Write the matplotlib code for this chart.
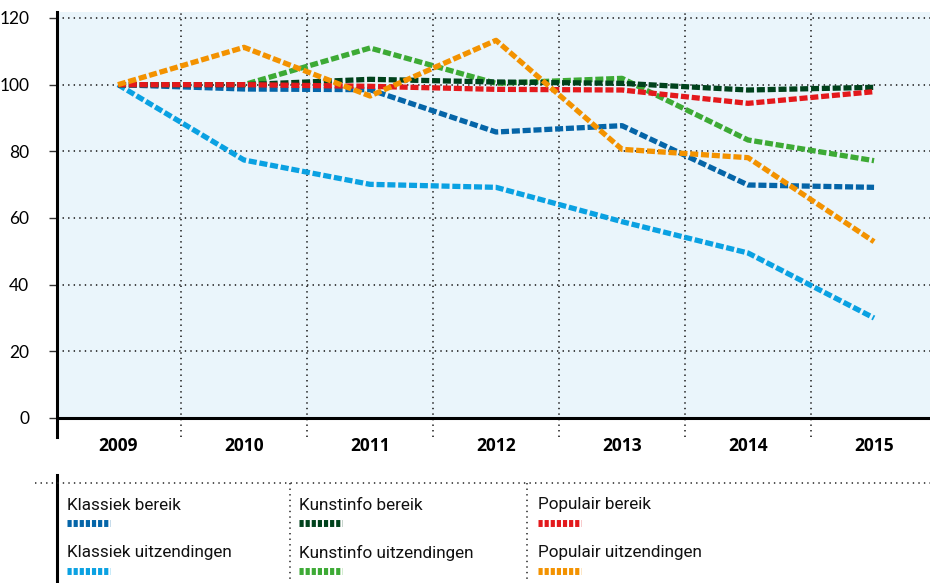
import matplotlib
matplotlib.use("Agg")
import matplotlib.pyplot as plt

plt.rcParams['lines.scale_dashes'] = False

years = ["2009", "2010", "2011", "2012", "2013", "2014", "2015"]
yticks = [0, 20, 40, 60, 80, 100, 120]

klassiek_bereik = [100, 98.7, 98.5, 85.8, 87.7, 69.9, 69.2]
klassiek_uitz = [100, 77.4, 70.1, 69.2, 58.9, 49.5, 30.0]
kunstinfo_bereik = [100, 100, 101.6, 100.8, 100.4, 98.4, 99.2]
kunstinfo_uitz = [100, 100, 111.0, 100.4, 101.9, 83.4, 77.2]
populair_bereik = [100, 100, 99.5, 98.6, 98.4, 94.4, 97.9]
populair_uitz = [100, 111.2, 96.6, 113.3, 80.6, 78.1, 52.9]

colors = {"Klassiek bereik": "#0565A8", "Klassiek uitzendingen": "#0AA1E2",
          "Kunstinfo bereik": "#00421C", "Kunstinfo uitzendingen": "#3DAA35",
          "Populair bereik": "#E3191C", "Populair uitzendingen": "#F39200"}
series = {"Klassiek bereik": klassiek_bereik, "Klassiek uitzendingen": klassiek_uitz,
          "Kunstinfo bereik": kunstinfo_bereik, "Kunstinfo uitzendingen": kunstinfo_uitz,
          "Populair bereik": populair_bereik, "Populair uitzendingen": populair_uitz}
draw_order = ["Klassiek uitzendingen", "Kunstinfo uitzendingen", "Klassiek bereik",
              "Kunstinfo bereik", "Populair bereik", "Populair uitzendingen"]

W, H = 930, 583
fig = plt.figure(figsize=(W / 100, H / 100), dpi=100)
fig.patch.set_facecolor("white")

# main axes
ax_left = 57 / W
ax_bottom = 1 - 437 / H
ax_top = 1 - 12 / H
ax = fig.add_axes([ax_left, ax_bottom, 1 - ax_left, ax_top - ax_bottom])
ax.set_facecolor("white")
x = list(range(len(years)))
ax.set_xlim(-0.484, 6.444)
ax.set_ylim(-5.7, 121.8)
ax.axhspan(0, 121.8, color="#EAF5FB", zorder=0, lw=0)

for s in ["top", "right", "bottom"]:
    ax.spines[s].set_visible(False)
ax.spines["left"].set_linewidth(2.2)
ax.spines["left"].set_color("black")

ax.set_yticks(yticks)
ax.set_yticklabels([str(v) for v in yticks], fontsize=12.5, family=["Lato", "DejaVu Sans"])
ax.tick_params(axis="y", length=6, width=1, color="#333333", pad=14)
ax.set_xticks(x)
ax.set_xticklabels(years, fontsize=12.5, fontweight="bold", family=["Open Sans", "DejaVu Sans"])
ax.tick_params(axis="x", length=0, pad=0)

for v in yticks[1:]:
    ax.axhline(v, color="#222222", lw=1.2, ls=(0, (1, 3)), zorder=1)
for i in range(len(years) - 1):
    ax.axvline(i + 0.5, color="#222222", lw=1.2, ls=(0, (1, 3)), zorder=1)
ax.axhline(0, color="black", lw=2.2, zorder=5)

for name in draw_order:
    ax.plot(x, series[name], color=colors[name], lw=3.8,
            dashes=(5.8, 2.0), solid_capstyle="butt", dash_capstyle="butt",
            zorder=3)

# legend area
lg = fig.add_axes([0, 0, 1, 1 - 470 / H])
lg.set_xlim(0, W)
lg.set_ylim(H, 470)
lg.axis("off")
lg.plot([57, 57], [475, 583], color="black", lw=2.2, clip_on=False)
lg.plot([35, 930], [483, 483], color="#222222", lw=1.1, ls=(0, (1, 3)))
for xv in [290, 527]:
    lg.plot([xv, xv], [483, 583], color="#222222", lw=1.1, ls=(0, (1, 3)))

cols_x = [67, 299, 538]
rows_y = [505, 553]
layout = [("Klassiek bereik", 0, 0), ("Klassiek uitzendingen", 0, 1),
          ("Kunstinfo bereik", 1, 0), ("Kunstinfo uitzendingen", 1, 1),
          ("Populair bereik", 2, 0), ("Populair uitzendingen", 2, 1)]
for name, c, r in layout:
    tx, ty = cols_x[c], rows_y[r]
    lg.text(tx, ty, name, fontsize=12.3, va="center", ha="left",
            family=["Roboto", "DejaVu Sans"], color="#111111")
    lg.plot([tx, tx + 43], [ty + 18, ty + 18], color=colors[name], lw=5,
            dashes=(3.0, 1.4), dash_capstyle="butt")

fig.savefig("out.png", dpi=100)
